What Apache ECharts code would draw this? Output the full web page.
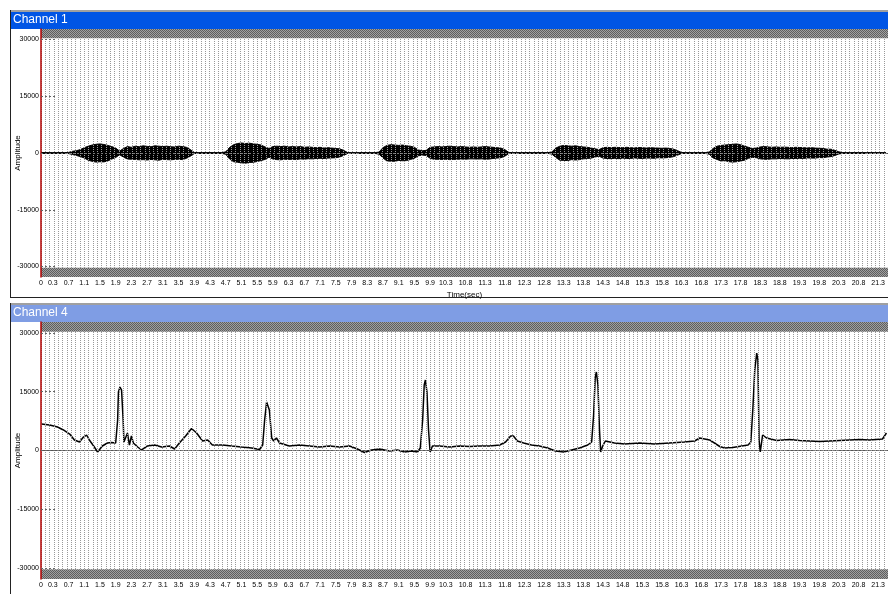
<!DOCTYPE html>
<html>
<head>
<meta charset="utf-8">
<script src="https://cdn.jsdelivr.net/npm/echarts@6/dist/echarts.min.js"></script>
<style>
  html, body { margin: 0; padding: 0; background: #fff; }
  #chart { width: 888px; height: 594px; }
</style>
</head>
<body>
<div id="chart"></div>
<script>
// tick labels
const timeLabels = [0, 0.3, 0.7, 1.1, 1.5, 1.9, 2.3, 2.7, 3.1, 3.5, 3.9, 4.3, 4.7, 5.1, 5.5, 5.9, 6.3, 6.7, 7.1, 7.5,
  7.9, 8.3, 8.7, 9.1, 9.5, 9.9, 10.3, 10.8, 11.3, 11.8, 12.3, 12.8, 13.3, 13.8, 14.3, 14.8, 15.3, 15.8, 16.3, 16.8,
  17.3, 17.8, 18.3, 18.8, 19.3, 19.8, 20.3, 20.8, 21.3];
const ampLabels = [-30000, -15000, 0, 15000, 30000];

// channel 1 : envelope of the waveform, one value every 0.1 s
const ch1Step = 0.1;
const ch1Upper = [
  100, 120, 100, 110, 100, 120, 110, 150,
  450, 600, 900, 1400, 1800, 2100, 2300, 2400, 2250, 2000, 1700, 1300, 500,
  1200, 1700, 1500, 1800, 1650, 1900, 1750, 1650, 1900, 1800, 1700, 1800, 1650, 1600, 1800, 1700, 1500, 900, 150,
  100, 110, 100, 120, 100, 110, 100, 300,
  1500, 2200, 2500, 2650, 2500, 2600, 2400, 2300, 2100, 1600, 1200,
  1700, 1800, 1700, 1800, 1600, 1700, 1600, 1700, 1500, 1600, 1500, 1400, 1500, 1300, 1400, 1300, 1200, 1100, 700, 120,
  100, 110, 100, 120, 100, 110, 100, 250,
  1400, 2000, 2200, 2100, 2000, 2100, 1900, 1800, 1500, 800, 600, 700,
  1500, 1600, 1700, 1600, 1700, 1800, 1700, 1600, 1700, 1600, 1500, 1600, 1500, 1600, 1700, 1600, 1500, 1400, 1300, 900, 150,
  100, 120, 100, 110, 130, 100, 120, 100, 110, 100, 300,
  1300, 1800, 2000, 1900, 1800, 1900, 1700, 1600, 1500, 1300, 1100, 900,
  1400, 1500, 1400, 1500, 1450, 1400, 1500, 1400, 1350, 1450, 1400, 1300, 1400, 1350, 1300, 1250, 1300, 1200, 1000, 600, 120,
  100, 110, 100, 120, 100, 110, 250,
  1200, 1800, 2000, 2100, 2200, 2300, 2400, 2200, 1800, 1500, 1200,
  1300, 1600, 1700, 1600, 1500, 1600, 1500, 1550, 1500, 1400, 1500, 1450, 1400, 1350, 1400, 1300, 1250, 1200, 1000, 1000, 700, 300,
  100, 110, 100, 120, 100, 110, 100, 120, 100, 110, 100, 100
];
const ch1Lower = [
  -100, -110, -100, -120, -100, -110, -120, -150,
  -400, -650, -950, -1300, -1900, -2200, -2400, -2300, -2350, -2100, -1600, -1200, -450,
  -1100, -1600, -1650, -1700, -1800, -1750, -1850, -1700, -1800, -1900, -1650, -1750, -1800, -1700, -1650, -1750, -1400, -850, -150,
  -100, -120, -100, -110, -100, -120, -110, -350,
  -1600, -2300, -2450, -2600, -2700, -2500, -2450, -2250, -2000, -1700, -1100,
  -1600, -1750, -1800, -1650, -1700, -1650, -1750, -1550, -1650, -1500, -1550, -1450, -1400, -1450, -1350, -1300, -1250, -1050, -650, -120,
  -110, -100, -120, -100, -110, -100, -120, -300,
  -1300, -2100, -2150, -2200, -1950, -2050, -2000, -1700, -1400, -750, -550, -650,
  -1400, -1650, -1650, -1700, -1650, -1750, -1700, -1650, -1600, -1650, -1550, -1550, -1600, -1550, -1650, -1600, -1450, -1350, -1250, -850, -150,
  -110, -100, -120, -100, -110, -100, -130, -100, -120, -110, -300,
  -1200, -1900, -1950, -2000, -1750, -1850, -1750, -1550, -1450, -1350, -1050, -850,
  -1350, -1450, -1500, -1400, -1500, -1350, -1450, -1450, -1300, -1400, -1450, -1350, -1350, -1400, -1250, -1300, -1250, -1150, -950, -550, -120,
  -110, -100, -120, -100, -110, -100, -300,
  -1300, -1700, -2100, -2000, -2300, -2400, -2300, -2100, -1900, -1400, -1150,
  -1250, -1550, -1650, -1650, -1550, -1550, -1450, -1500, -1550, -1450, -1450, -1400, -1450, -1300, -1350, -1350, -1200, -1250, -1050, -950, -650, -250,
  -110, -100, -120, -100, -110, -100, -120, -100, -110, -100, -120, -100
];

// channel 4 : trace points (time in s, amplitude)
const ch4Time = [
  0.01, 0.22, 0.42, 0.57, 0.73, 0.85, 0.98, 1.08, 1.16, 1.23, 1.34, 1.44, 1.56, 1.69, 1.79, 1.90,
  1.95, 1.97, 2.01, 2.05, 2.09, 2.11, 2.15, 2.20, 2.25, 2.30, 2.35, 2.46, 2.56, 2.71, 2.89, 3.07,
  3.27, 3.40, 3.52, 3.68, 3.83, 3.96, 4.11, 4.24, 4.36, 4.62, 4.85, 5.10, 5.36, 5.56, 5.64, 5.69,
  5.74, 5.78, 5.81, 5.87, 5.92, 5.99, 6.07, 6.32, 6.58, 6.83, 7.09, 7.34, 7.60, 7.85, 8.05, 8.23,
  8.41, 8.61, 8.87, 9.07, 9.25, 9.43, 9.58, 9.65, 9.71, 9.75, 9.78, 9.82, 9.86, 9.90, 9.96, 10.14,
  10.40, 10.65, 10.91, 11.16, 11.41, 11.67, 11.82, 11.95, 12.02, 12.12, 12.28, 12.48, 12.68, 12.89, 13.09, 13.30,
  13.50, 13.70, 13.91, 14.01, 14.06, 14.10, 14.13, 14.17, 14.21, 14.24, 14.29, 14.36, 14.59, 14.85, 15.23, 15.61,
  15.99, 16.37, 16.63, 16.76, 17.01, 17.27, 17.39, 17.60, 17.83, 17.99, 18.06, 18.11, 18.16, 18.21, 18.24, 18.27,
  18.30, 18.36, 18.46, 18.72, 19.04, 19.30, 19.81, 20.32, 20.83, 21.08, 21.41, 21.51
];
const ch4Amp = [
  6760, 6500, 6000, 5230, 4200, 2680, 2170, 3440, 3950, 2680, 1150, -380, 1150, 1910, 2040, 1910,
  7780, 14900, 16200, 15400, 7780, 2170, 3190, 4460, 1400, 3700, 1910, 890, 130, 1150, 1400, 890,
  1150, 380, 1910, 3700, 5610, 4460, 2420, 2680, 1400, 1400, 1150, 890, 640, 250, 1400, 7780,
  12370, 12880, 10330, 3190, 2420, 3190, 1910, 1150, 1400, 1150, 890, 1150, 890, 1150, 380, -510,
  130, 380, -130, 130, -380, -130, -380, 640, 7780, 16700, 17980, 14900, 5230, -380, 1150, 1150,
  890, 1150, 1020, 1150, 1150, 1400, 2170, 3700, 3700, 2420, 1910, 1400, 1150, 640, -130, -380,
  130, 640, 1400, 2170, 9050, 18490, 20020, 16700, 5230, -380, 1150, 2420, 1910, 1660, 1910, 1660,
  1910, 2170, 2420, 3190, 2680, 1020, 640, 770, 1150, 1400, 2170, 10330, 20530, 24860, 23080, 2680,
  -380, 3950, 3190, 2550, 2800, 2550, 2300, 2550, 2800, 2680, 2930, 4460
];

const FONT = 'Arial, "Liberation Sans", sans-serif';
const X_MAX = 21.55;
const Y_LIM = 32768;

function hatchPattern() {
  const c = document.createElement('canvas');
  c.width = 2; c.height = 2;
  const ctx = c.getContext('2d');
  ctx.fillStyle = '#a0a0a0';
  ctx.fillRect(0, 0, 2, 2);
  ctx.fillStyle = '#5e5e5e';
  ctx.fillRect(0, 0, 1, 1);
  ctx.fillRect(1, 1, 1, 1);
  return { image: c, repeat: 'repeat' };
}
const hatch = hatchPattern();

function mainX(gridIndex) {
  return {
    type: 'value', gridIndex: gridIndex, min: 0, max: X_MAX,
    name: 'Time(sec)', nameLocation: 'middle', nameGap: 14, nameMoveOverlap: false,
    nameTextStyle: { fontSize: 8, fontFamily: FONT, color: '#000' },
    axisLine: { show: true, lineStyle: { color: '#555', width: 1 } },
    axisTick: { show: false },
    splitLine: { show: false },
    axisLabel: {
      customValues: timeLabels, fontSize: 7, fontFamily: FONT, color: '#000', margin: 3,
      formatter: function (v) { return String(v); }
    }
  };
}
function gridX(gridIndex) {
  return {
    type: 'value', gridIndex: gridIndex, min: 0, max: X_MAX, interval: 0.11,
    position: 'bottom', z: 3,
    axisLine: { show: false }, axisTick: { show: false }, axisLabel: { show: false },
    splitLine: { show: true, lineStyle: { color: '#999999', width: 1, type: [1, 1] } }
  };
}
function ampY(gridIndex) {
  return {
    type: 'value', gridIndex: gridIndex, min: -Y_LIM, max: Y_LIM, z: 12,
    name: 'Amplitude', nameLocation: 'middle', nameGap: 19, nameMoveOverlap: false,
    nameTextStyle: { fontSize: 8, fontFamily: FONT, color: '#000' },
    axisLine: { show: true, lineStyle: { color: '#b00000', width: 1.5 } },
    axisTick: { show: true, inside: true, length: 14, customValues: ampLabels,
      lineStyle: { color: '#666', type: [2, 2] } },
    splitLine: { show: false },
    axisLabel: {
      customValues: ampLabels, fontSize: 7, fontFamily: FONT, color: '#000', margin: 2,
      formatter: function (v) { return String(v); }
    }
  };
}
function bands() {
  return {
    silent: true, z: 10,
    itemStyle: { color: hatch },
    data: [
      [{ yAxis: 30300 }, { yAxis: Y_LIM }],
      [{ yAxis: -Y_LIM }, { yAxis: -30300 }]
    ]
  };
}
function zeroLine() {
  return {
    silent: true, symbol: ['none', 'none'], label: { show: false },
    lineStyle: { color: '#777', type: [2, 2], width: 1 },
    data: [{ yAxis: 0 }]
  };
}

const ch1Top = ch1Upper.map((v, i) => [+(i * ch1Step).toFixed(2), v]);
const ch1Bot = ch1Lower.map((v, i) => [+(i * ch1Step).toFixed(2), v]);
const ch4Data = ch4Time.map((t, i) => [t, ch4Amp[i]]);

const chart = echarts.init(document.getElementById('chart'), null, { renderer: 'canvas' });

chart.setOption({
  animation: false,
  backgroundColor: '#fff',
  grid: [
    { left: 41, top: 29, width: 847, height: 248, containLabel: false, outerBoundsMode: 'none' },
    { left: 41, top: 322, width: 847, height: 257, containLabel: false, outerBoundsMode: 'none' }
  ],
  xAxis: [mainX(0), gridX(0), mainX(1), gridX(1)],
  yAxis: [ampY(0), ampY(1)],
  graphic: [
    { type: 'rect', shape: { x: 10, y: 10, width: 878, height: 2 }, style: { fill: '#a0a0a0' } },
    { type: 'rect', shape: { x: 10, y: 12, width: 878, height: 17 }, style: { fill: '#0055e5' } },
    { type: 'text', x: 13, y: 20, style: { text: 'Channel 1', fill: '#fff', font: '12px ' + FONT, verticalAlign: 'middle' } },
    { type: 'line', shape: { x1: 10.5, y1: 10, x2: 10.5, y2: 297 }, style: { stroke: '#222', lineWidth: 1 } },
    { type: 'line', shape: { x1: 10, y1: 297.5, x2: 888, y2: 297.5 }, style: { stroke: '#222', lineWidth: 1 } },
    { type: 'rect', shape: { x: 10, y: 303, width: 878, height: 2 }, style: { fill: '#a0a0a0' } },
    { type: 'rect', shape: { x: 10, y: 305, width: 878, height: 17 }, style: { fill: '#7f9de4' } },
    { type: 'text', x: 13, y: 313, style: { text: 'Channel 4', fill: '#fff', font: '12px ' + FONT, verticalAlign: 'middle' } },
    { type: 'line', shape: { x1: 10.5, y1: 303, x2: 10.5, y2: 594 }, style: { stroke: '#222', lineWidth: 1 } }
  ],
  series: [
    {
      name: 'Channel 1 +', type: 'line', xAxisIndex: 0, yAxisIndex: 0, data: ch1Top,
      showSymbol: false, z: 2,
      lineStyle: { color: '#000', width: 1 },
      areaStyle: { color: '#000', opacity: 1 },
      markArea: bands(), markLine: zeroLine()
    },
    {
      name: 'Channel 1 -', type: 'line', xAxisIndex: 0, yAxisIndex: 0, data: ch1Bot,
      showSymbol: false, z: 2,
      lineStyle: { color: '#000', width: 1 },
      areaStyle: { color: '#000', opacity: 1 }
    },
    {
      name: 'Channel 4', type: 'line', xAxisIndex: 2, yAxisIndex: 1, data: ch4Data,
      showSymbol: false, z: 2,
      lineStyle: { color: '#000', width: 1.5 },
      markArea: bands(), markLine: zeroLine()
    }
  ]
});
</script>
</body>
</html>
